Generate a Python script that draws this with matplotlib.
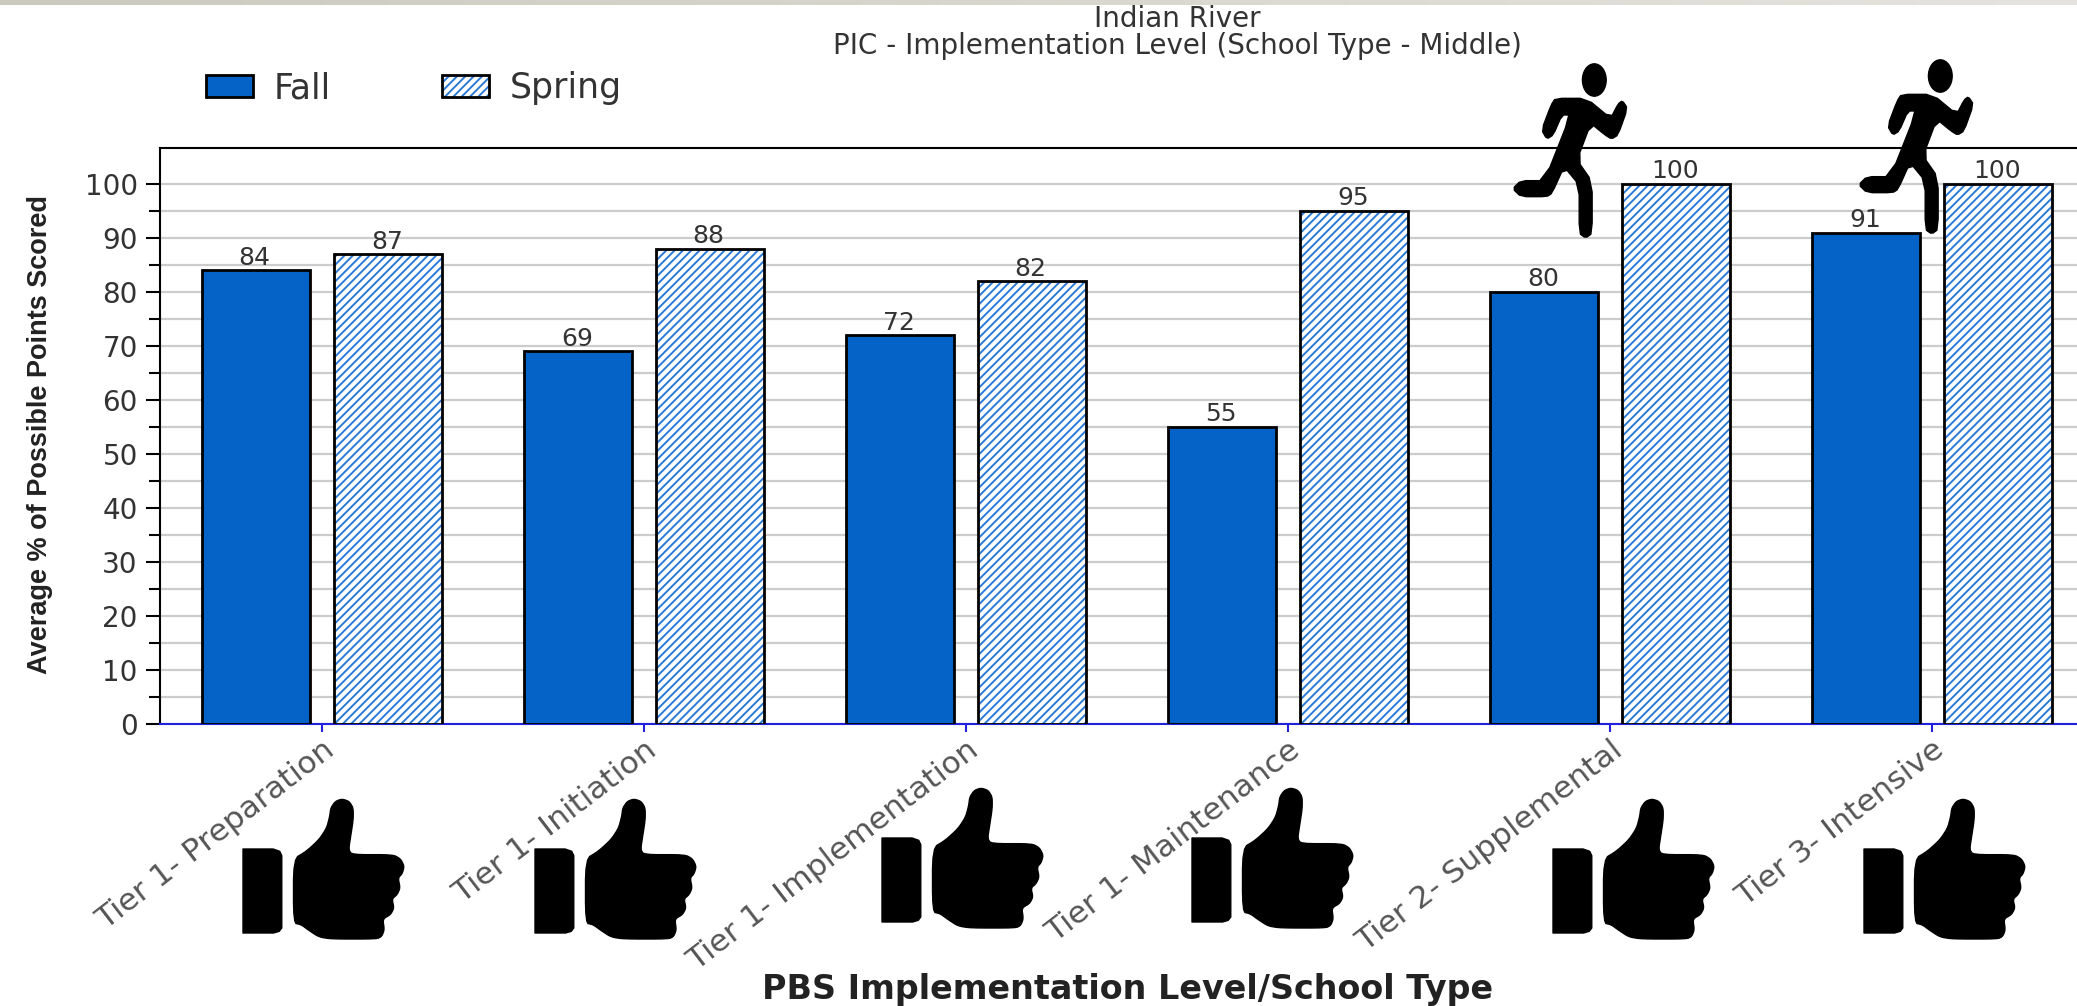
import numpy as np
import matplotlib
matplotlib.use('Agg')
import matplotlib.pyplot as plt
from matplotlib.patches import Patch, PathPatch, Ellipse
from matplotlib.path import Path
from matplotlib.legend_handler import HandlerTuple

categories = ['Tier 1- Preparation', 'Tier 1- Initiation', 'Tier 1- Implementation',
              'Tier 1- Maintenance', 'Tier 2- Supplemental', 'Tier 3- Intensive']
fall = [84, 69, 72, 55, 80, 91]
spring = [87, 88, 82, 95, 100, 100]
series_names = ['Fall', 'Spring']
y_ticks = [0, 10, 20, 30, 40, 50, 60, 70, 80, 90, 100]

# icon outlines
thumb_hand = [(575, 538), (600, 515), (625, 480), (640, 445), (646, 410), (648, 385), (657, 365), (670, 358),
              (684, 365), (692, 385), (692, 420), (687, 470), (683, 510), (690, 525), (770, 525), (785, 538),
              (792, 560), (788, 582), (780, 595), (784, 625), (778, 645), (768, 658), (772, 685), (765, 705),
              (750, 718), (753, 750), (748, 770), (738, 778), (650, 778), (625, 772), (605, 752), (590, 735),
              (575, 730)]
thumb_cuff = [(476, 508), (535, 508), (548, 515), (552, 528), (552, 745), (547, 755), (536, 760), (476, 760)]
runner_body = [(360, 205), (432, 205), (488, 265), (505, 222), (515, 212), (527, 235), (505, 315), (490, 327),
               (475, 315), (442, 280), (410, 390), (445, 455), (445, 610), (430, 624), (415, 610), (415, 465),
               (380, 410), (352, 490), (340, 500), (280, 500), (261, 476), (280, 452), (335, 452), (395, 255),
               (375, 255), (355, 315), (340, 327), (328, 300), (350, 225)]

W, H = 2077, 1006
plt.rcParams['hatch.linewidth'] = 1.4
fig = plt.figure(figsize=(W / 100, H / 100), dpi=100)
ax = fig.add_axes([160 / W, (H - 724) / H, (W - 160) / W, 576 / H])

x = np.arange(len(categories))
bar_w = 0.333
off = 0.205
ax.bar(x - off, fall, bar_w, color='#0563c8', edgecolor='black', linewidth=2, zorder=3)
ax.bar(x + off, spring, bar_w, color='white', edgecolor='#2a7ad8', hatch='////', linewidth=0, zorder=3)
ax.bar(x + off, spring, bar_w, fill=False, edgecolor='black', linewidth=2, zorder=4)

for i in x:
    ax.text(i - off - 0.004, fall[i] + 0.1, str(fall[i]), ha='center', va='bottom', fontsize=18, color='#333333')
    ax.text(i + off - 0.004, spring[i] + 0.1, str(spring[i]), ha='center', va='bottom', fontsize=18, color='#333333')

ax.set_xlim(-0.503, 5.45)
ax.set_ylim(0, 106.67)
ax.set_yticks(y_ticks)
ax.set_yticks([t + 5 for t in y_ticks[:-1]], minor=True)
ax.grid(axis='y', which='both', color='#cccccc', linewidth=1.6, zorder=0)
ax.set_axisbelow(True)
ax.tick_params(axis='y', which='major', length=10, width=1.5, labelsize=20, labelcolor='#333333', pad=6)
ax.tick_params(axis='y', which='minor', length=8, width=1.5)
ax.spines['right'].set_visible(False)
ax.spines['left'].set_linewidth(1.5)
ax.spines['top'].set_linewidth(1.5)
ax.spines['bottom'].set_color('#2222dd')
ax.spines['bottom'].set_linewidth(1.5)

ax.set_xticks(x)
ax.set_xticklabels(categories, rotation=37.5, ha='right', rotation_mode='anchor',
                   fontsize=22.5, color='#555555')
ax.tick_params(axis='x', length=6, width=1.5, color='#2222dd', pad=2)

hatched = Patch(facecolor='white', edgecolor='#2a7ad8', hatch='////', linewidth=0)
outline = Patch(fill=False, edgecolor='black', linewidth=2)
solid = Patch(facecolor='#0563c8', edgecolor='black', linewidth=2)
fig.legend([solid, (hatched, outline)], series_names, ncol=2, frameon=False,
           handler_map={tuple: HandlerTuple(ndivide=1, pad=0)},
           loc='upper left', bbox_to_anchor=(175 / W, 1 - 40 / H), fontsize=25,
           labelcolor='#333333', handlelength=1.35, handleheight=0.6, columnspacing=3.2, handletextpad=0.6)

fig.text(1177 / W, 1 - 19 / H, 'Indian River', ha='center', va='center', fontsize=20, color='#333333')
fig.text(1177 / W, 1 - 46 / H, 'PIC - Implementation Level (School Type - Middle)', ha='center', va='center',
         fontsize=20, color='#333333')
fig.text(1128 / W, 1 - 990 / H, 'PBS Implementation Level/School Type', ha='center', va='center',
         fontsize=24, fontweight='bold', color='#222222')
fig.text(40 / W, 1 - 435 / H, 'Average % of Possible Points Scored', rotation=90, ha='center', va='center',
         fontsize=19.5, fontweight='bold', family='Liberation Sans', color='#222222')

# overlay in picture pixels for the pasted-on icons and the band at the top
over = fig.add_axes([0, 0, 1, 1], zorder=10)
over.axis('off')
over.patch.set_alpha(0)

left_col = np.array([0.80, 0.79, 0.75])
right_col = np.array([0.90, 0.89, 0.87])
band = np.linspace(left_col, right_col, 256)[np.newaxis, :, :]
over.imshow(band, extent=(0, W, 5, 0), aspect='auto')
over.set_xlim(0, W)
over.set_ylim(H, 0)


def smooth(points, n):
    # corner cutting so the traced outlines are not angular
    pts = np.array(points, dtype=float)
    for _ in range(n):
        nxt = np.roll(pts, -1, axis=0)
        pts = np.column_stack([0.8 * pts + 0.2 * nxt, 0.2 * pts + 0.8 * nxt]).reshape(-1, 2)
    return pts


def add_shape(points, ox, oy, sx, sy, n=1):
    pts = smooth(points, n) / [sx, sy] + [ox, oy]
    pts = np.vstack([pts, pts[0]])
    over.add_patch(PathPatch(Path(pts, closed=True), facecolor='black', edgecolor='black',
                             linewidth=1, joinstyle='round'))


# thumb icons: left edge and top of each one
thumb_pos = [(243, 799), (535, 799), (882, 788), (1192, 788), (1553, 799), (1864, 799)]
for tx, ty in thumb_pos:
    ox = tx - 476 / 1.96
    oy = ty - 358 / 3
    add_shape(thumb_hand, ox, oy, 1.96, 3, n=2)
    add_shape(thumb_cuff, ox, oy, 1.96, 3, n=0)

# runners: offset of the zoomed tracing
runner_pos = [(1400, 30), (1746, 26)]
for rx, ry in runner_pos:
    add_shape(runner_body, rx, ry, 2.316, 3, n=1)
    over.add_patch(Ellipse((rx + 450 / 2.316, ry + 150 / 3), 55 / 2.316, 97 / 3, color='black'))

fig.savefig('out.png', dpi=100)
